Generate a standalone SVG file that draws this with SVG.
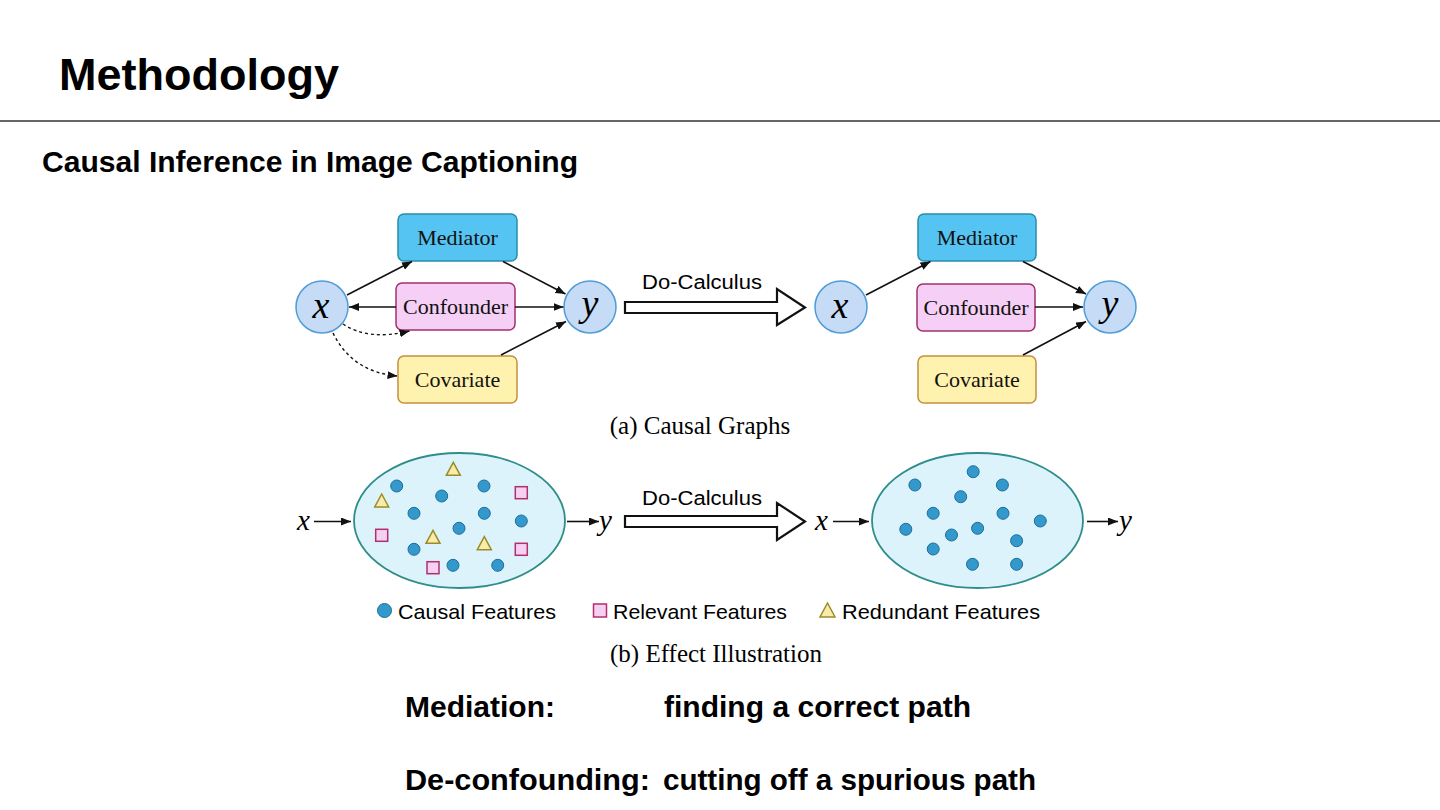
<svg xmlns="http://www.w3.org/2000/svg" width="1440" height="810" viewBox="0 0 1440 810">
<style>
.sans{font-family:"Liberation Sans",Arial,sans-serif}
.serif{font-family:"Liberation Serif","Times New Roman",serif}
.bold{font-weight:bold}
.var{font-family:"Liberation Serif","Times New Roman",serif;font-style:italic}
.med{fill:#55C4F2;stroke:#2A8EA6;stroke-width:1.5}
.con{fill:#F5CFF5;stroke:#A3306C;stroke-width:1.5}
.cov{fill:#FFF2AE;stroke:#C3903E;stroke-width:1.5}
.node{fill:#C6DBF6;stroke:#4F9CD9;stroke-width:1.5}
.ell{fill:#DDF3FC;stroke:#2E8E8A;stroke-width:1.8}
.dot{fill:#3399CC;stroke:#1E6E98;stroke-width:1}
.sq{fill:#F5D0F2;stroke:#B0306C;stroke-width:1.5}
.tri{fill:#F8ECAA;stroke:#9C8B2A;stroke-width:1.5}
.edge{stroke:#111;stroke-width:1.6;fill:none}
.dash{stroke:#111;stroke-width:1.4;fill:none;stroke-dasharray:3 3}
.hollow{fill:#fff;stroke:#111;stroke-width:2.2;stroke-linejoin:miter}
.lbl{font-size:22px;fill:#111;text-anchor:middle}
</style>
<defs>
<marker id="ah" markerUnits="userSpaceOnUse" markerWidth="10" markerHeight="8" refX="10" refY="4" orient="auto">
<path d="M0,0 L10,4 L0,8 z" fill="#111"/>
</marker>
<circle id="c" r="6" class="dot"/>
<rect id="s" x="-6" y="-6" width="12" height="12" class="sq"/>
<path id="t" d="M0,-7 L7,6 L-7,6 z" class="tri"/>
</defs>
<rect width="1440" height="810" fill="#fff"/>

<g id="header">
<text class="sans bold" x="59" y="90" font-size="44" textLength="280" lengthAdjust="spacingAndGlyphs">Methodology</text>
<line x1="0" y1="121" x2="1440" y2="121" stroke="#333" stroke-width="1.3"/>
<text class="sans bold" x="42" y="172" font-size="30" textLength="536" lengthAdjust="spacingAndGlyphs">Causal Inference in Image Captioning</text>
</g>

<!-- (a) left graph -->
<g id="a-left-x"><circle cx="322" cy="307" r="26" class="node"/><text class="var" x="321" y="318" font-size="38" text-anchor="middle">x</text></g>
<g id="a-left-mediator"><rect x="398" y="214" width="119" height="47" rx="6" class="med"/><text class="serif lbl" x="457.5" y="245">Mediator</text></g>
<g id="a-left-confounder"><rect x="396" y="283" width="119" height="47" rx="6" class="con"/><text class="serif lbl" x="455.5" y="314">Confounder</text></g>
<g id="a-left-covariate"><rect x="398" y="356" width="119" height="47" rx="6" class="cov"/><text class="serif lbl" x="457.5" y="387">Covariate</text></g>
<g id="a-left-y"><circle cx="590" cy="307" r="26" class="node"/><text class="var" x="590" y="316" font-size="38" text-anchor="middle">y</text></g>

<!-- (a) right graph -->
<g id="a-right-x"><circle cx="841" cy="307" r="26" class="node"/><text class="var" x="840" y="318" font-size="38" text-anchor="middle">x</text></g>
<g id="a-right-mediator"><rect x="918" y="214" width="118" height="47" rx="6" class="med"/><text class="serif lbl" x="977" y="245">Mediator</text></g>
<g id="a-right-confounder"><rect x="917" y="284" width="118" height="47" rx="6" class="con"/><text class="serif lbl" x="976" y="315">Confounder</text></g>
<g id="a-right-covariate"><rect x="918" y="356" width="118" height="47" rx="6" class="cov"/><text class="serif lbl" x="977" y="387">Covariate</text></g>
<g id="a-right-y"><circle cx="1110" cy="307" r="26" class="node"/><text class="var" x="1110" y="316" font-size="38" text-anchor="middle">y</text></g>

<g id="do-calculus-a">
<polygon class="hollow" points="625,302 777,302 777,289 805,307.5 777,325 777,313 625,313"/>
<text class="sans" x="642" y="289" font-size="20" textLength="120" lengthAdjust="spacingAndGlyphs">Do-Calculus</text>
</g>
<text class="serif" x="700" y="434" font-size="25" text-anchor="middle">(a) Causal Graphs</text>

<!-- (b) -->
<g id="b-left-x"><text class="var" x="297" y="530" font-size="29">x</text></g>
<g id="b-left-ellipse">
<ellipse cx="459.5" cy="520.5" rx="105.5" ry="67.5" class="ell"/>
<use href="#c" x="396.7" y="486"/><use href="#c" x="441.7" y="496"/><use href="#c" x="484" y="486"/>
<use href="#c" x="414" y="513.3"/><use href="#c" x="484.3" y="513.3"/><use href="#c" x="521.3" y="521"/>
<use href="#c" x="459" y="528.3"/><use href="#c" x="414" y="549.3"/><use href="#c" x="453" y="565.3"/>
<use href="#c" x="497.7" y="565.3"/>
<use href="#t" x="453.3" y="469.3"/><use href="#t" x="381.7" y="501"/><use href="#t" x="433" y="537.3"/><use href="#t" x="484.3" y="543.7"/>
<use href="#s" x="521.3" y="492.7"/><use href="#s" x="381.7" y="535.3"/><use href="#s" x="521.3" y="549.3"/><use href="#s" x="433" y="567.7"/>
</g>
<g id="b-left-y"><text class="var" x="599" y="530" font-size="29">y</text></g>

<g id="do-calculus-b">
<polygon class="hollow" points="625,516 777,516 777,503 805,521.5 777,540 777,527 625,527"/>
<text class="sans" x="642" y="505" font-size="20" textLength="120" lengthAdjust="spacingAndGlyphs">Do-Calculus</text>
</g>

<g id="b-right-x"><text class="var" x="815" y="530" font-size="29">x</text></g>
<g id="b-right-ellipse">
<ellipse cx="977.5" cy="520.5" rx="105.5" ry="67.5" class="ell"/>
<use href="#c" x="973.2" y="471.7"/><use href="#c" x="914.9" y="485"/><use href="#c" x="1002.4" y="485"/>
<use href="#c" x="960.7" y="496.7"/><use href="#c" x="933.2" y="513.3"/><use href="#c" x="1003" y="513.3"/>
<use href="#c" x="1040.3" y="521"/><use href="#c" x="905.8" y="529.3"/><use href="#c" x="951.5" y="535"/>
<use href="#c" x="977.6" y="528.3"/><use href="#c" x="1016.6" y="540.7"/><use href="#c" x="933.2" y="549"/>
<use href="#c" x="972.5" y="564.3"/><use href="#c" x="1016.6" y="564.3"/>
</g>
<g id="b-right-y"><text class="var" x="1119" y="530" font-size="29">y</text></g>

<g id="legend">
<circle cx="384.5" cy="610.5" r="7" class="dot"/>
<text class="sans" x="398" y="618.5" font-size="21" textLength="158" lengthAdjust="spacingAndGlyphs">Causal Features</text>
<rect x="593.5" y="604" width="13" height="13" class="sq"/>
<text class="sans" x="613" y="618.5" font-size="21" textLength="174" lengthAdjust="spacingAndGlyphs">Relevant Features</text>
<path d="M827.5,603 L835,617 L820,617 z" class="tri"/>
<text class="sans" x="842" y="618.5" font-size="21" textLength="198" lengthAdjust="spacingAndGlyphs">Redundant Features</text>
</g>
<text class="serif" x="716" y="662" font-size="25" text-anchor="middle">(b) Effect Illustration</text>

<g id="summary">
<text class="sans bold" x="405" y="717" font-size="30" textLength="150" lengthAdjust="spacingAndGlyphs">Mediation:</text>
<text class="sans bold" x="664" y="717" font-size="30" textLength="307" lengthAdjust="spacingAndGlyphs">finding a correct path</text>
<text class="sans bold" x="405" y="790" font-size="30" textLength="245" lengthAdjust="spacingAndGlyphs">De-confounding:</text>
<text class="sans bold" x="663" y="790" font-size="30" textLength="373" lengthAdjust="spacingAndGlyphs">cutting off a spurious path</text>
</g>

<g id="connectors">
<line class="edge" x1="347" y1="295" x2="412" y2="261.5" marker-end="url(#ah)"/>
<line class="edge" x1="503" y1="261.5" x2="565.5" y2="294" marker-end="url(#ah)"/>
<line class="edge" x1="396" y1="307" x2="349" y2="307" marker-end="url(#ah)"/>
<line class="edge" x1="515" y1="307" x2="563.5" y2="307" marker-end="url(#ah)"/>
<line class="edge" x1="501" y1="355" x2="566" y2="321.5" marker-end="url(#ah)"/>
<path class="dash" d="M343,324 Q368,341 409.5,331" marker-end="url(#ah)"/>
<path class="dash" d="M333,333 Q352,372 397.5,376" marker-end="url(#ah)"/>
<line class="edge" x1="866" y1="295" x2="930.5" y2="261.5" marker-end="url(#ah)"/>
<line class="edge" x1="1023" y1="261.5" x2="1086" y2="294" marker-end="url(#ah)"/>
<line class="edge" x1="1035" y1="307" x2="1083" y2="307" marker-end="url(#ah)"/>
<line class="edge" x1="1023" y1="355" x2="1086" y2="321.5" marker-end="url(#ah)"/>
<line class="edge" x1="314" y1="521.5" x2="351" y2="521.5" marker-end="url(#ah)"/>
<line class="edge" x1="567" y1="521.5" x2="599" y2="521.5" marker-end="url(#ah)"/>
<line class="edge" x1="833" y1="521.5" x2="869" y2="521.5" marker-end="url(#ah)"/>
<line class="edge" x1="1087" y1="521.5" x2="1118" y2="521.5" marker-end="url(#ah)"/>
</g>
</svg>
